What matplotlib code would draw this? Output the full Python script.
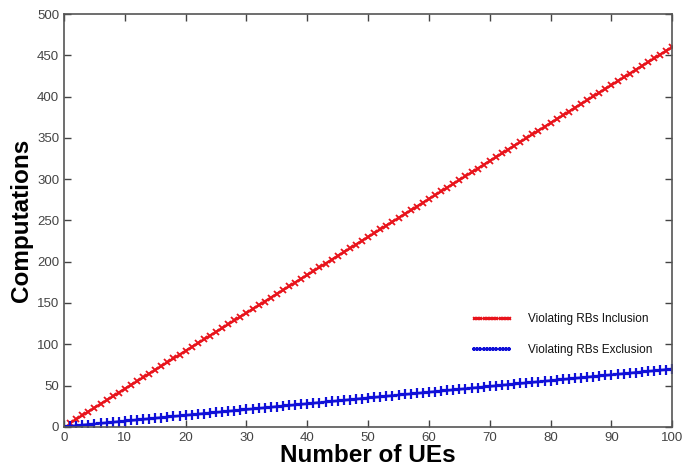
#!/usr/bin/env python3
import matplotlib
matplotlib.use('Agg')
import matplotlib.pyplot as plt

# number of UEs
ues = list(range(1, 101))

# computations, violating RBs inclusion
inclusion = [4.6, 9.2, 13.8, 18.4, 23.0, 27.6, 32.2, 36.8, 41.4, 46.0,
             50.6, 55.2, 59.8, 64.4, 69.0, 73.6, 78.2, 82.8, 87.4, 92.0,
             96.6, 101.2, 105.8, 110.4, 115.0, 119.6, 124.2, 128.8, 133.4, 138.0,
             142.6, 147.2, 151.8, 156.4, 161.0, 165.6, 170.2, 174.8, 179.4, 184.0,
             188.6, 193.2, 197.8, 202.4, 207.0, 211.6, 216.2, 220.8, 225.4, 230.0,
             234.6, 239.2, 243.8, 248.4, 253.0, 257.6, 262.2, 266.8, 271.4, 276.0,
             280.6, 285.2, 289.8, 294.4, 299.0, 303.6, 308.2, 312.8, 317.4, 322.0,
             326.6, 331.2, 335.8, 340.4, 345.0, 349.6, 354.2, 358.8, 363.4, 368.0,
             372.6, 377.2, 381.8, 386.4, 391.0, 395.6, 400.2, 404.8, 409.4, 414.0,
             418.6, 423.2, 427.8, 432.4, 437.0, 441.6, 446.2, 450.8, 455.4, 460.0]

# computations, violating RBs exclusion
exclusion = [0.7, 1.4, 2.1, 2.8, 3.5, 4.2, 4.9, 5.6, 6.3, 7.0,
             7.7, 8.4, 9.1, 9.8, 10.5, 11.2, 11.9, 12.6, 13.3, 14.0,
             14.7, 15.4, 16.1, 16.8, 17.5, 18.2, 18.9, 19.6, 20.3, 21.0,
             21.7, 22.4, 23.1, 23.8, 24.5, 25.2, 25.9, 26.6, 27.3, 28.0,
             28.7, 29.4, 30.1, 30.8, 31.5, 32.2, 32.9, 33.6, 34.3, 35.0,
             35.7, 36.4, 37.1, 37.8, 38.5, 39.2, 39.9, 40.6, 41.3, 42.0,
             42.7, 43.4, 44.1, 44.8, 45.5, 46.2, 46.9, 47.6, 48.3, 49.0,
             49.7, 50.4, 51.1, 51.8, 52.5, 53.2, 53.9, 54.6, 55.3, 56.0,
             56.7, 57.4, 58.1, 58.8, 59.5, 60.2, 60.9, 61.6, 62.3, 63.0,
             63.7, 64.4, 65.1, 65.8, 66.5, 67.2, 67.9, 68.6, 69.3, 70.0]

labels = ['Violating RBs Inclusion', 'Violating RBs Exclusion']

plt.rcParams['font.family'] = ['Liberation Sans', 'DejaVu Sans']

fig = plt.figure(figsize=(6.92, 4.67), dpi=100)
ax = fig.add_axes([0.0925, 0.086, 0.879, 0.884])

ax.plot(ues, inclusion, color='#e8141c', lw=1.8, marker='x', ms=4.5, mew=1.3,
        label=labels[0])
ax.plot(ues, exclusion, color='#1010d8', lw=1.8, marker='+', ms=7, mew=1.6,
        label=labels[1])

ax.set_xlim(0, 100)
ax.set_ylim(0, 500)
ax.set_xticks(range(0, 101, 10))
ax.set_yticks(range(0, 501, 50))
ax.tick_params(direction='in', top=True, right=True, length=5, width=1,
               colors='#444444', labelsize=9.5, labelcolor='#444444')
for s in ax.spines.values():
    s.set_color('#555555')
    s.set_linewidth(1.2)

ax.set_xlabel('Number of UEs', fontsize=17.5, fontweight='bold', labelpad=0)
ax.set_ylabel('Computations', fontsize=17.5, fontweight='bold', labelpad=3)

leg = ax.legend(loc='lower right', bbox_to_anchor=(0.985, 0.145), frameon=False,
                fontsize=8.5, handlelength=3.6, numpoints=12, markerscale=0.45,
                labelspacing=1.6, handletextpad=1.3)
for t in leg.get_texts():
    t.set_color('#111111')
for h in leg.legend_handles:
    h.set_linewidth(0.8)

plt.savefig('out.png', dpi=100)
